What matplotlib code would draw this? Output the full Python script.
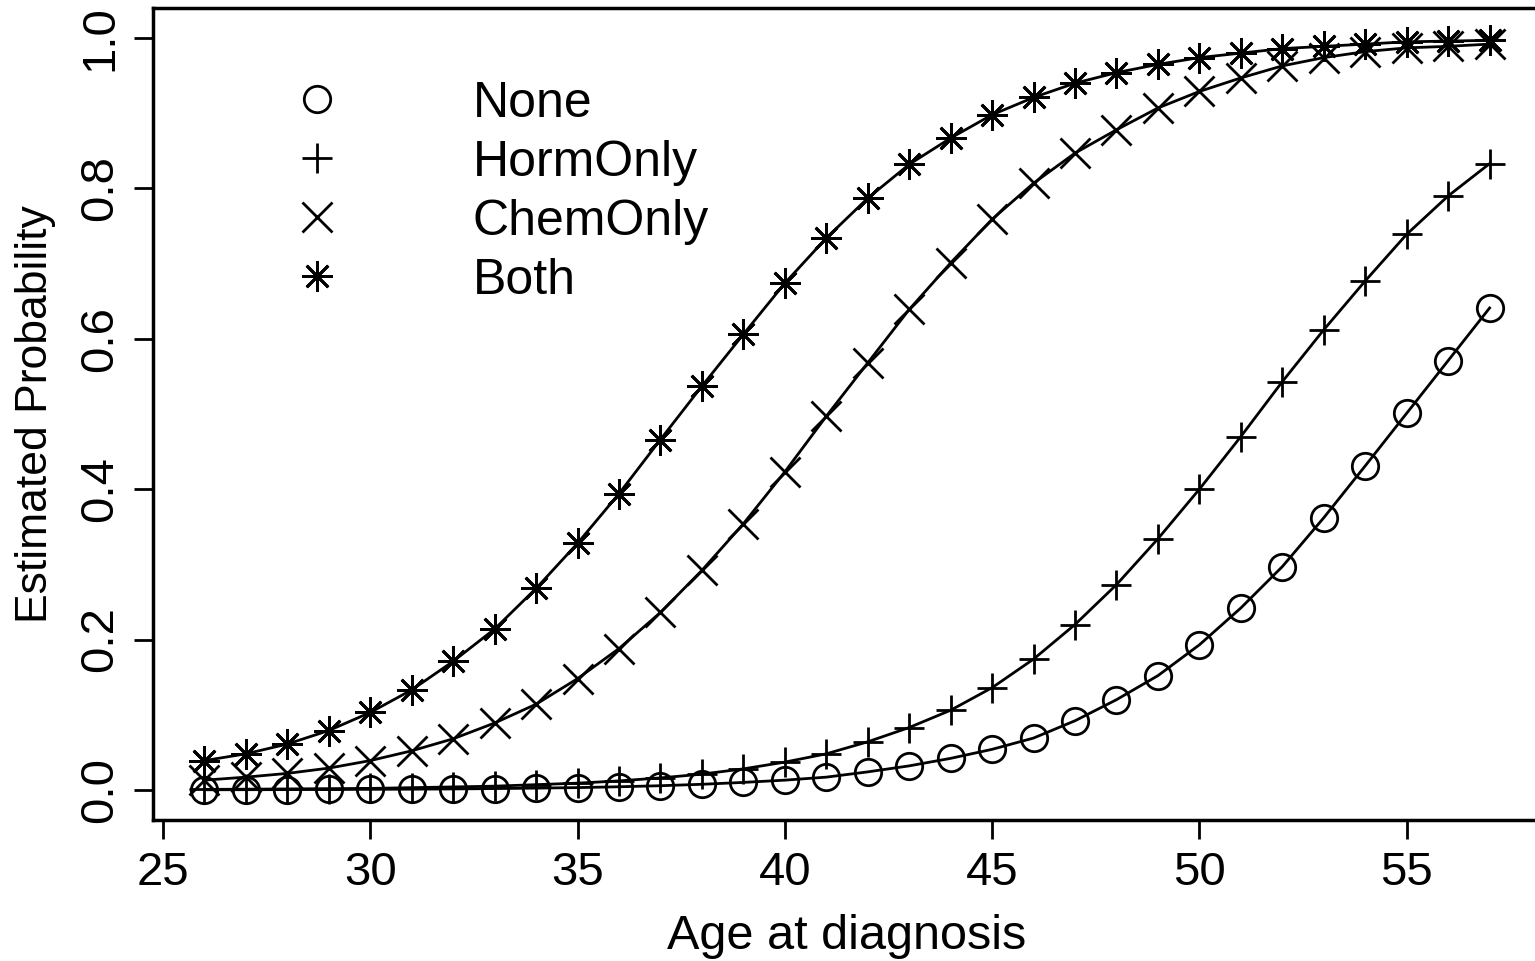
import numpy as np
import matplotlib
matplotlib.use("Agg")
import matplotlib.pyplot as plt
from matplotlib.lines import Line2D

plt.rcParams['font.family'] = ['Liberation Sans', 'DejaVu Sans']

age = list(range(26, 58))

# estimated probabilities
p_none = [0.0002, 0.0003, 0.0004, 0.0006, 0.0008, 0.001, 0.0013, 0.0018, 0.0024, 0.0031,
          0.0042, 0.0056, 0.0075, 0.010, 0.013, 0.017, 0.024, 0.032, 0.042, 0.054,
          0.069, 0.092, 0.120, 0.152, 0.193, 0.242, 0.297, 0.362, 0.431, 0.501,
          0.571, 0.641]
p_horm = [0.0007, 0.001, 0.0013, 0.0017, 0.002, 0.003, 0.004, 0.005, 0.007, 0.009,
          0.012, 0.016, 0.021, 0.028, 0.037, 0.048, 0.064, 0.083, 0.106, 0.136,
          0.174, 0.220, 0.273, 0.334, 0.400, 0.470, 0.543, 0.612, 0.677, 0.739,
          0.790, 0.833]
p_chem = [0.013, 0.017, 0.022, 0.029, 0.039, 0.052, 0.068, 0.089, 0.114, 0.148,
          0.188, 0.236, 0.292, 0.354, 0.423, 0.497, 0.568, 0.639, 0.701, 0.759,
          0.807, 0.847, 0.878, 0.907, 0.929, 0.947, 0.963, 0.974, 0.982, 0.987,
          0.989, 0.992]
p_both = [0.039, 0.048, 0.061, 0.079, 0.103, 0.133, 0.171, 0.214, 0.268, 0.328,
          0.394, 0.466, 0.537, 0.606, 0.674, 0.734, 0.787, 0.832, 0.867, 0.898,
          0.921, 0.940, 0.954, 0.965, 0.974, 0.980, 0.986, 0.989, 0.992, 0.995,
          0.996, 0.997]

labels = ["None", "HormOnly", "ChemOnly", "Both"]
series = [p_none, p_horm, p_chem, p_both]
markers = ["o", "+", "x", (8, 2, 0)]
msizes = [19, 22, 22, 22]

fig = plt.figure(figsize=(15.35, 9.61), dpi=100)
ax = fig.add_axes([153 / 1535, 141 / 961, 1388 / 1535, 812 / 961])

ft = 34
lw = 2.0
for y, m, ms in zip(series, markers, msizes):
    ax.plot(age, y, color="black", lw=lw, marker=m, ms=ms, mfc="none",
            mec="black", mew=lw, zorder=3)

ax.set_xlim(24.76, 58.24)
ax.set_ylim(-0.04, 1.04)
ax.set_xticks([25, 30, 35, 40, 45, 50, 55])
ax.set_yticks([0.0, 0.2, 0.4, 0.6, 0.8, 1.0])
ax.set_yticklabels(["0.0", "0.2", "0.4", "0.6", "0.8", "1.0"], rotation=90, va="center")
ax.tick_params(direction="out", length=14, width=2, labelsize=ft, pad=8)
for s in ax.spines.values():
    s.set_linewidth(2.5)

ax.set_xlabel("Age at diagnosis", fontsize=35, labelpad=14)
ax.set_ylabel("Estimated Probability", fontsize=32, labelpad=16)

handles = [Line2D([], [], ls="none", marker=m, ms=ms, mfc="none", mec="black", mew=lw)
           for m, ms in zip(markers, msizes)]
ax.legend(handles, labels, loc="upper left", bbox_to_anchor=(0.068, 0.966), frameon=False,
          fontsize=36, handlelength=1.0, handletextpad=2.6, labelspacing=0.26)

fig.savefig("out.png", dpi=100)
